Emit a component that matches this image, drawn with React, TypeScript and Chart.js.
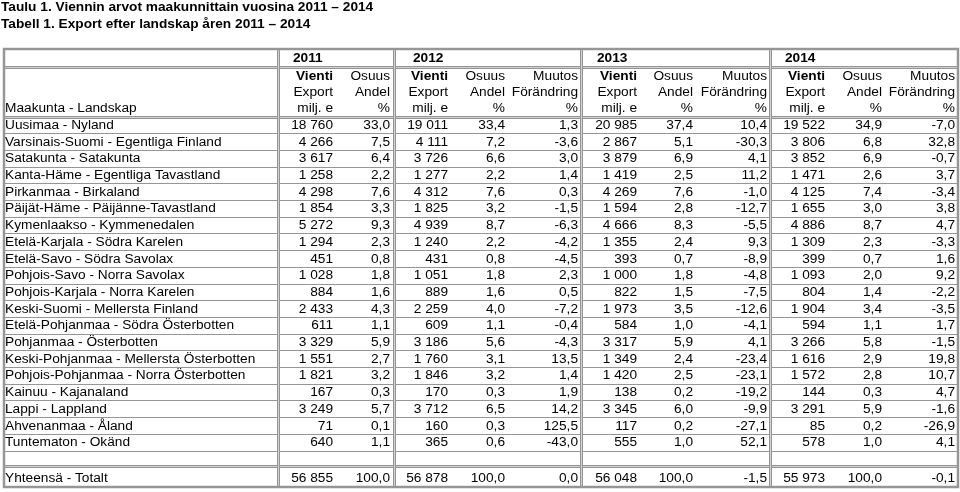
import { useEffect, useRef } from "react";
import { Chart, registerables } from "chart.js";

Chart.register(...registerables);

// ---------- Data ----------
const titleLines = [
  "Taulu 1. Viennin arvot maakunnittain vuosina 2011 – 2014",
  "Tabell 1. Export efter landskap åren 2011 – 2014",
];
const years = ["2011", "2012", "2013", "2014"];
const regionHeader = "Maakunta - Landskap";
const totalLabel = "Yhteensä - Totalt";
const headerVienti = ["Vienti", "Export", "milj. e"];
const headerOsuus = ["Osuus", "Andel", "%"];
const headerMuutos = ["Muutos", "Förändring", "%"];

const regions = [
  "Uusimaa - Nyland",
  "Varsinais-Suomi - Egentliga Finland",
  "Satakunta - Satakunta",
  "Kanta-Häme - Egentliga Tavastland",
  "Pirkanmaa - Birkaland",
  "Päijät-Häme - Päijänne-Tavastland",
  "Kymenlaakso - Kymmenedalen",
  "Etelä-Karjala - Södra Karelen",
  "Etelä-Savo - Södra Savolax",
  "Pohjois-Savo - Norra Savolax",
  "Pohjois-Karjala - Norra Karelen",
  "Keski-Suomi - Mellersta Finland",
  "Etelä-Pohjanmaa - Södra Österbotten",
  "Pohjanmaa - Österbotten",
  "Keski-Pohjanmaa - Mellersta Österbotten",
  "Pohjois-Pohjanmaa - Norra Österbotten",
  "Kainuu - Kajanaland",
  "Lappi - Lappland",
  "Ahvenanmaa - Åland",
  "Tuntematon - Okänd",
];

const export2011 = [18760, 4266, 3617, 1258, 4298, 1854, 5272, 1294, 451, 1028, 884, 2433, 611, 3329, 1551, 1821, 167, 3249, 71, 640];
const share2011 = [33.0, 7.5, 6.4, 2.2, 7.6, 3.3, 9.3, 2.3, 0.8, 1.8, 1.6, 4.3, 1.1, 5.9, 2.7, 3.2, 0.3, 5.7, 0.1, 1.1];

const export2012 = [19011, 4111, 3726, 1277, 4312, 1825, 4939, 1240, 431, 1051, 889, 2259, 609, 3186, 1760, 1846, 170, 3712, 160, 365];
const share2012 = [33.4, 7.2, 6.6, 2.2, 7.6, 3.2, 8.7, 2.2, 0.8, 1.8, 1.6, 4.0, 1.1, 5.6, 3.1, 3.2, 0.3, 6.5, 0.3, 0.6];
const change2012 = [1.3, -3.6, 3.0, 1.4, 0.3, -1.5, -6.3, -4.2, -4.5, 2.3, 0.5, -7.2, -0.4, -4.3, 13.5, 1.4, 1.9, 14.2, 125.5, -43.0];

const export2013 = [20985, 2867, 3879, 1419, 4269, 1594, 4666, 1355, 393, 1000, 822, 1973, 584, 3317, 1349, 1420, 138, 3345, 117, 555];
const share2013 = [37.4, 5.1, 6.9, 2.5, 7.6, 2.8, 8.3, 2.4, 0.7, 1.8, 1.5, 3.5, 1.0, 5.9, 2.4, 2.5, 0.2, 6.0, 0.2, 1.0];
const change2013 = [10.4, -30.3, 4.1, 11.2, -1.0, -12.7, -5.5, 9.3, -8.9, -4.8, -7.5, -12.6, -4.1, 4.1, -23.4, -23.1, -19.2, -9.9, -27.1, 52.1];

const export2014 = [19522, 3806, 3852, 1471, 4125, 1655, 4886, 1309, 399, 1093, 804, 1904, 594, 3266, 1616, 1572, 144, 3291, 85, 578];
const share2014 = [34.9, 6.8, 6.9, 2.6, 7.4, 3.0, 8.7, 2.3, 0.7, 2.0, 1.4, 3.4, 1.1, 5.8, 2.9, 2.8, 0.3, 5.9, 0.2, 1.0];
const change2014 = [-7.0, 32.8, -0.7, 3.7, -3.4, 3.8, 4.7, -3.3, 1.6, 9.2, -2.2, -3.5, 1.7, -1.5, 19.8, 10.7, 4.7, -1.6, -26.9, 4.1];

const totalExport = [56855, 56878, 56048, 55973];
const totalShare = [100.0, 100.0, 100.0, 100.0];
const totalChange = [null, 0.0, -1.5, -0.1];

// ---------- Layout (positions / styles) ----------
const FONT = "'Liberation Sans', Arial, Helvetica, sans-serif";
const FS = 13.7;
const LINE = "#969696";
const LINE_LIGHT = "#d0d0d0";
const TABLE_L = 4;
const TABLE_R = 958;
const TABLE_T = 49;
const YEAR_B = 67;
const HEAD_B = 116.5;
const ROW_H = 16.7;
const EMPTY_B = 465.5;
const TABLE_B = 487;
const GROUP_EDGES = [278, 394, 581, 770];
const YEAR_TEXT_X = [293, 413, 597, 785];
const COL_RIGHT = [
  [333, 390],
  [448, 505, 578],
  [637, 693, 767],
  [825, 882, 955],
];
const HEAD_LINE_Y = [76, 92, 108];

const fmtInt = (n: number) => String(n).replace(/\B(?=(\d{3})+(?!\d))/g, " ");
const fmtDec = (n: number) => n.toFixed(1).replace(".", ",");

const groups = [
  { exp: export2011, share: share2011, change: null as number[] | null },
  { exp: export2012, share: share2012, change: change2012 },
  { exp: export2013, share: share2013, change: change2013 },
  { exp: export2014, share: share2014, change: change2014 },
];

const tablePlugin = {
  id: "tableDraw",
  afterDraw(chart: any) {
    const ctx: CanvasRenderingContext2D = chart.ctx;
    const xs = chart.scales.x;
    const ys = chart.scales.y;
    const X = (v: number) => xs.getPixelForValue(v);
    const Y = (v: number) => ys.getPixelForValue(v);

    ctx.save();
    ctx.fillStyle = "#ffffff";
    ctx.fillRect(0, 0, chart.width, chart.height);

    // Title
    ctx.fillStyle = "#000";
    ctx.textBaseline = "middle";
    ctx.textAlign = "left";
    ctx.font = `bold ${FS}px ${FONT}`;
    ctx.fillText(titleLines[0], X(1), Y(7));
    ctx.fillText(titleLines[1], X(1), Y(24));

    // Lines
    const hLine = (y: number, x0: number, x1: number) => {
      ctx.strokeStyle = LINE;
      ctx.lineWidth = 1;
      ctx.beginPath();
      ctx.moveTo(X(x0), Math.round(Y(y)) + 0.5);
      ctx.lineTo(X(x1), Math.round(Y(y)) + 0.5);
      ctx.stroke();
    };
    const hDouble = (y: number, x0: number, x1: number) => {
      ctx.fillStyle = LINE;
      const py = Math.round(Y(y)) - 1;
      ctx.fillRect(X(x0), py, X(x1) - X(x0), 3);
      ctx.fillStyle = LINE_LIGHT;
      ctx.fillRect(X(x0), py + 1, X(x1) - X(x0), 1);
    };
    const vDouble = (x: number, y0: number, y1: number) => {
      ctx.fillStyle = LINE;
      const px = Math.round(X(x)) - 1;
      ctx.fillRect(px, Y(y0), 3, Y(y1) - Y(y0));
      ctx.fillStyle = LINE_LIGHT;
      ctx.fillRect(px + 1, Y(y0), 1, Y(y1) - Y(y0));
    };

    for (let k = 1; k <= regions.length; k++) {
      hLine(HEAD_B + k * ROW_H, TABLE_L, TABLE_R);
    }
    hDouble(YEAR_B, TABLE_L, TABLE_R);
    hDouble(HEAD_B, TABLE_L, TABLE_R);
    hDouble(EMPTY_B, TABLE_L, TABLE_R);
    GROUP_EDGES.forEach((gx) => vDouble(gx, TABLE_T, TABLE_B));

    // Outer border
    ctx.strokeStyle = LINE;
    ctx.lineWidth = 2.5;
    ctx.strokeRect(X(TABLE_L), Y(TABLE_T), X(TABLE_R) - X(TABLE_L), Y(TABLE_B) - Y(TABLE_T));

    // Header text
    ctx.fillStyle = "#000";
    ctx.textBaseline = "middle";
    ctx.font = `bold ${FS}px ${FONT}`;
    ctx.textAlign = "left";
    years.forEach((yr, i) => ctx.fillText(yr, X(YEAR_TEXT_X[i]), Y(58)));

    ctx.font = `${FS}px ${FONT}`;
    ctx.fillText(regionHeader, X(5), Y(HEAD_LINE_Y[2]));

    ctx.textAlign = "right";
    COL_RIGHT.forEach((cols, gi) => {
      const heads = gi === 0 ? [headerVienti, headerOsuus] : [headerVienti, headerOsuus, headerMuutos];
      cols.forEach((cx, ci) => {
        heads[ci].forEach((txt, li) => {
          ctx.font = ci === 0 && li === 0 ? `bold ${FS}px ${FONT}` : `${FS}px ${FONT}`;
          ctx.fillText(txt, X(cx), Y(HEAD_LINE_Y[li]));
        });
      });
    });

    // Data rows
    ctx.font = `${FS}px ${FONT}`;
    regions.forEach((name, r) => {
      const cy = Y(HEAD_B + (r + 0.5) * ROW_H + 0.3);
      ctx.textAlign = "left";
      ctx.fillText(name, X(5), cy);
      ctx.textAlign = "right";
      groups.forEach((g, gi) => {
        const cols = COL_RIGHT[gi];
        ctx.fillText(fmtInt(g.exp[r]), X(cols[0]), cy);
        ctx.fillText(fmtDec(g.share[r]), X(cols[1]), cy);
        if (g.change) ctx.fillText(fmtDec(g.change[r]), X(cols[2]), cy);
      });
    });

    // Total row
    const ty = Y((EMPTY_B + TABLE_B) / 2 + 2);
    ctx.textAlign = "left";
    ctx.fillText(totalLabel, X(5), ty);
    ctx.textAlign = "right";
    COL_RIGHT.forEach((cols, gi) => {
      ctx.fillText(fmtInt(totalExport[gi]), X(cols[0]), ty);
      ctx.fillText(fmtDec(totalShare[gi]), X(cols[1]), ty);
      const ch = totalChange[gi];
      if (ch !== null && cols[2] !== undefined) ctx.fillText(fmtDec(ch), X(cols[2]), ty);
    });

    ctx.restore();
  },
};

export default function App() {
  const ref = useRef<HTMLCanvasElement | null>(null);
  useEffect(() => {
    if (!ref.current) return;
    const chart = new Chart(ref.current, {
      type: "scatter",
      data: { datasets: [] },
      options: {
        animation: false,
        responsive: false,
        layout: { padding: 0 },
        scales: {
          x: { type: "linear", min: 0, max: 960, display: false },
          y: { type: "linear", min: 0, max: 492, reverse: true, display: false },
        },
        plugins: { legend: { display: false }, tooltip: { enabled: false } },
      },
      plugins: [tablePlugin],
    });
    return () => chart.destroy();
  }, []);
  return (
    <div style={{ position: "absolute", left: 0, top: 0, width: 960, height: 492, background: "#fff" }}>
      <canvas ref={ref} width={960} height={492} style={{ display: "block" }} />
    </div>
  );
}
